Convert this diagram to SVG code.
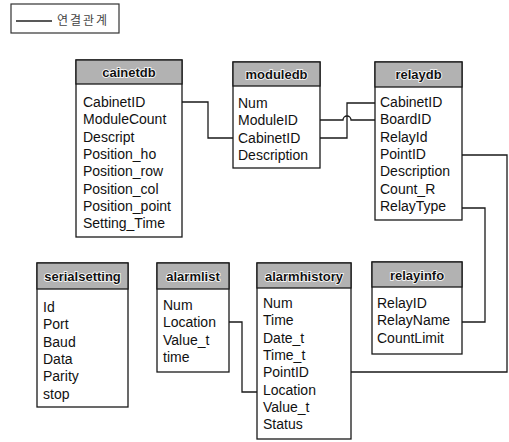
<svg xmlns="http://www.w3.org/2000/svg" width="509" height="442" viewBox="0 0 509 442">
<style>
  .box { fill: #ffffff; stroke: #1a1a1a; stroke-width: 1.3; }
  .hdr { fill: #b2b2b2; stroke: #1a1a1a; stroke-width: 1.3; }
  .ht { font-family: "Liberation Sans", Arial, sans-serif; font-size: 13px; font-weight: bold; fill: #111111; text-anchor: middle; stroke: #ffffff; stroke-width: 1.6; paint-order: stroke; }
  .rt { font-family: "Liberation Sans", Arial, sans-serif; font-size: 14px; fill: #111111; }
  .conn { fill: none; stroke: #1a1a1a; stroke-width: 1.3; }
  .leg { font-family: "Noto Sans CJK KR", sans-serif; font-size: 12px; fill: #444444; letter-spacing: 2px; }
</style>
<rect width="509" height="442" fill="#ffffff"/>

<g id="legend">
  <rect x="11" y="4" width="108" height="29" fill="#ffffff" stroke="#333333" stroke-width="1.2"/>
  <line x1="16" y1="21" x2="52" y2="21" stroke="#222222" stroke-width="1.3"/>
  <text class="leg" x="57" y="25">연결관계</text>
</g>

<g id="connectors">
  <path class="conn" d="M182,102 H208 V138 H233"/>
  <path class="conn" d="M320,138 H347 V103 H375"/>
  <path class="conn" d="M320,120 H343 A4,4 0 0 1 351,120 H375"/>
  <path class="conn" d="M462,155 H507 V372 H351"/>
  <path class="conn" d="M462,208 H485 V322 H462"/>
  <path class="conn" d="M229,322 H242 V392 H257"/>
</g>

<g id="cainetdb">
  <rect class="box" x="76" y="60" width="106" height="177"/>
  <rect class="hdr" x="76" y="60" width="106" height="24"/>
  <text class="ht" x="129" y="77">cainetdb</text>
  <text class="rt" x="83" y="107">CabinetID</text>
  <text class="rt" x="83" y="124.3">ModuleCount</text>
  <text class="rt" x="83" y="141.6">Descript</text>
  <text class="rt" x="83" y="158.9">Position_ho</text>
  <text class="rt" x="83" y="176.2">Position_row</text>
  <text class="rt" x="83" y="193.5">Position_col</text>
  <text class="rt" x="83" y="210.8">Position_point</text>
  <text class="rt" x="83" y="228.1">Setting_Time</text>
</g>

<g id="moduledb">
  <rect class="box" x="233" y="62" width="87" height="106"/>
  <rect class="hdr" x="233" y="62" width="87" height="24"/>
  <text class="ht" x="276.5" y="79">moduledb</text>
  <text class="rt" x="238" y="108">Num</text>
  <text class="rt" x="238" y="125.3">ModuleID</text>
  <text class="rt" x="238" y="142.6">CabinetID</text>
  <text class="rt" x="238" y="159.9">Description</text>
</g>

<g id="relaydb">
  <rect class="box" x="375" y="62" width="87" height="158"/>
  <rect class="hdr" x="375" y="62" width="87" height="25"/>
  <text class="ht" x="418.5" y="79">relaydb</text>
  <text class="rt" x="380" y="107">CabinetID</text>
  <text class="rt" x="380" y="124.3">BoardID</text>
  <text class="rt" x="380" y="141.6">RelayId</text>
  <text class="rt" x="380" y="158.9">PointID</text>
  <text class="rt" x="380" y="176.2">Description</text>
  <text class="rt" x="380" y="193.5">Count_R</text>
  <text class="rt" x="380" y="210.8">RelayType</text>
</g>

<g id="serialsetting">
  <rect class="box" x="37" y="263" width="91" height="144"/>
  <rect class="hdr" x="37" y="263" width="91" height="26"/>
  <text class="ht" x="82.5" y="281">serialsetting</text>
  <text class="rt" x="43" y="312">Id</text>
  <text class="rt" x="43" y="329.3">Port</text>
  <text class="rt" x="43" y="346.6">Baud</text>
  <text class="rt" x="43" y="363.9">Data</text>
  <text class="rt" x="43" y="381.2">Parity</text>
  <text class="rt" x="43" y="398.5">stop</text>
</g>

<g id="alarmlist">
  <rect class="box" x="157" y="263" width="72" height="109"/>
  <rect class="hdr" x="157" y="263" width="72" height="26"/>
  <text class="ht" x="193" y="281">alarmlist</text>
  <text class="rt" x="163" y="310">Num</text>
  <text class="rt" x="163" y="327.3">Location</text>
  <text class="rt" x="163" y="344.6">Value_t</text>
  <text class="rt" x="163" y="361.9">time</text>
</g>

<g id="alarmhistory">
  <rect class="box" x="257" y="263" width="94" height="176"/>
  <rect class="hdr" x="257" y="263" width="94" height="25"/>
  <text class="ht" x="304" y="280.5">alarmhistory</text>
  <text class="rt" x="263" y="308">Num</text>
  <text class="rt" x="263" y="325.3">Time</text>
  <text class="rt" x="263" y="342.6">Date_t</text>
  <text class="rt" x="263" y="359.9">Time_t</text>
  <text class="rt" x="263" y="377.2">PointID</text>
  <text class="rt" x="263" y="394.5">Location</text>
  <text class="rt" x="263" y="411.8">Value_t</text>
  <text class="rt" x="263" y="429.1">Status</text>
</g>

<g id="relayinfo">
  <rect class="box" x="372" y="262" width="90" height="92"/>
  <rect class="hdr" x="372" y="262" width="90" height="25"/>
  <text class="ht" x="417" y="279.5">relayinfo</text>
  <text class="rt" x="377" y="308">RelayID</text>
  <text class="rt" x="377" y="325.3">RelayName</text>
  <text class="rt" x="377" y="342.6">CountLimit</text>
</g>
</svg>
